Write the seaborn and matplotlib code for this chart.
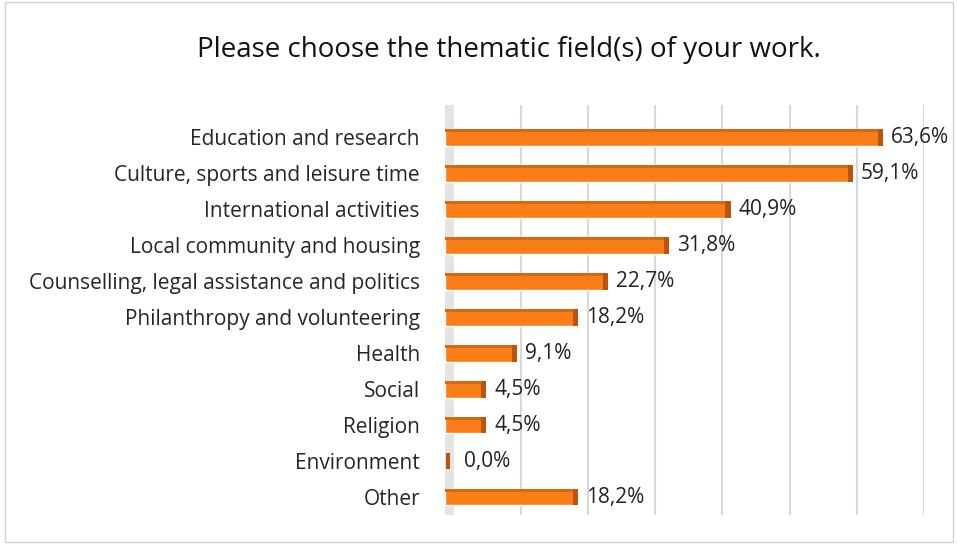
import pandas as pd
import seaborn as sns
import matplotlib.pyplot as plt
from matplotlib.patches import Rectangle

# data
categories = ["Education and research", "Culture, sports and leisure time",
              "International activities", "Local community and housing",
              "Counselling, legal assistance and politics",
              "Philanthropy and volunteering", "Health", "Social", "Religion",
              "Environment", "Other"]
shares = [63.6, 59.1, 40.9, 31.8, 22.7, 18.2, 9.1, 4.5, 4.5, 0.0, 18.2]

df = pd.DataFrame({"field": categories, "share": shares})

sns.set_style("white")
plt.rcParams["font.family"] = ["Open Sans", "DejaVu Sans"]

fig = plt.figure(figsize=(9.58, 5.44), dpi=100)
ax = fig.add_axes([0.4645, 0.053, 0.5, 0.754])

bar_color = "#FA7D17"
side_color = "#B8570C"
wall = -1.3
sns.barplot(data=df, y="field", x="share", orient="h", color=bar_color,
            width=0.46, saturation=1, ax=ax)

# fake 3D look: bars start at the wall, darker top strip and right face
for p in list(ax.patches):
    w, h = p.get_width(), p.get_height()
    y0 = p.get_y()
    if w == 0:
        # empty category: only the dark end face is visible
        p.set_visible(False)
        ax.add_patch(Rectangle((wall + 0.2, y0), 0.6, h, color=side_color, lw=0, zorder=3))
        continue
    p.set_x(wall)
    p.set_width(w - wall)
    ax.add_patch(Rectangle((wall, y0), w - wall, h * 0.2, color="#D9690F", lw=0, zorder=3))
    ax.add_patch(Rectangle((w - 0.45, y0), 0.75, h, color=side_color, lw=0, zorder=3))

for i, val in enumerate(shares):
    ax.text(val + 1.5, i, f"{val:.1f}%".replace(".", ","), va="center",
            ha="left", fontsize=15, color="#222222")

ax.set_xlim(wall, 70)
ax.set_ylim(10.5, -0.9)
ax.set_xticks(range(10, 71, 10))
ax.xaxis.grid(True, color="#D9D9D9", lw=1.5)
ax.set_axisbelow(True)
ax.set_xticklabels([])
ax.tick_params(axis="x", length=0)
ax.tick_params(axis="y", length=0, pad=18, labelsize=15)
ax.set_xlabel("")
ax.set_ylabel("")
for s in ax.spines.values():
    s.set_visible(False)
ax.axvspan(wall, 0, color="#E4E4E4", lw=0, zorder=0)

fig.text(0.531, 0.908, "Please choose the thematic field(s) of your work.",
         ha="center", va="center", fontsize=20, color="#111111")

fig.patches.append(Rectangle((0.005, 0.003), 0.99, 0.994, transform=fig.transFigure,
                             fill=False, edgecolor="#D0D0D0", lw=1))

fig.savefig("out.png", dpi=100, facecolor="white")
